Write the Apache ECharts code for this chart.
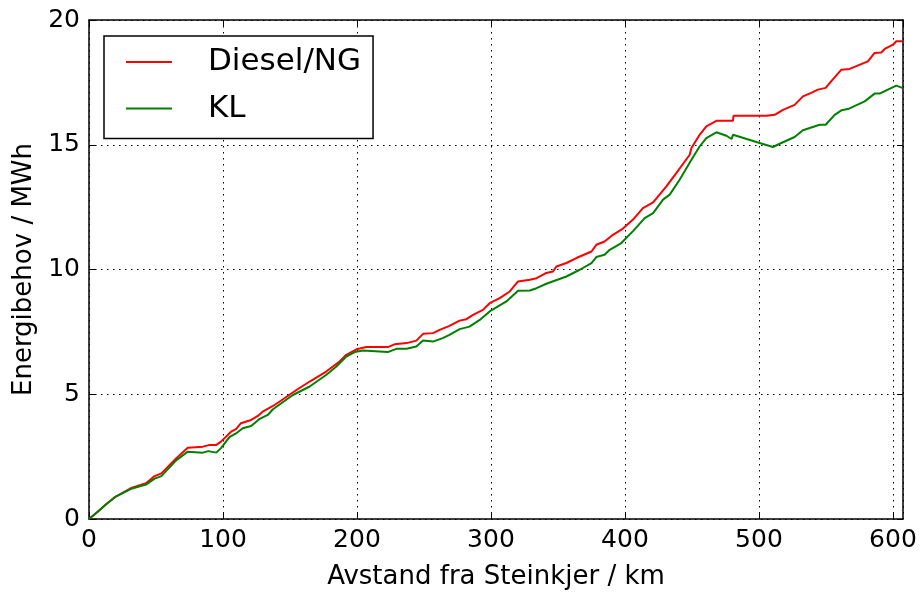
<!DOCTYPE html>
<html>
<head>
<meta charset="utf-8">
<script src="https://cdn.jsdelivr.net/npm/echarts@6/dist/echarts.min.js"></script>
<style>html,body{margin:0;padding:0;background:#fff}#c{width:924px;height:596px}</style>
</head>
<body>
<div id="c"></div>
<script>
// Diesel/NG series: distance (km) and energy need (MWh)
const dieselKm = [0,6.5,13,20,31,42.5,49,54,65,73.7,85,90,95,98.5,106,109.7,113.4,121,126,129.6,137.3,142.3,154.8,164.7,177,187,192,199.6,207,223,228,237,244.3,249.3,256.7,261.7,269,276.6,281.6,286.6,294,299,306.5,314,320.2,329,334,341.3,346.3,348.8,356.3,363.7,375,378.6,384.8,391,398.5,406,413.4,421,430.9,438.4,448.3,449.6,455.7,460.7,468.2,480.6,481,505.5,511.7,517.9,526.6,532.8,539,544,549.8,554,561.5,567.7,581.3,586.3,591.3,593.8,600,602.5,607];
const dieselVal = [0,0.29,0.6,0.9,1.23,1.43,1.72,1.83,2.43,2.86,2.9,2.97,2.97,3.1,3.5,3.6,3.84,3.97,4.13,4.3,4.53,4.71,5.17,5.51,5.91,6.31,6.58,6.8,6.89,6.89,7.0,7.05,7.15,7.42,7.45,7.58,7.74,7.95,8.01,8.18,8.38,8.65,8.85,9.12,9.52,9.59,9.65,9.86,9.92,10.12,10.26,10.46,10.72,10.99,11.12,11.39,11.64,12.0,12.46,12.69,13.33,13.87,14.6,14.87,15.4,15.74,15.96,15.96,16.16,16.16,16.2,16.4,16.6,16.94,17.08,17.21,17.28,17.55,18.01,18.04,18.34,18.68,18.7,18.84,19.01,19.15,19.15];
// KL series
const klKm = [0,6.5,13,20,31,42.5,49,54,65,73.7,85,89,95,98.5,104.8,109.7,114.7,121,127,133.4,137.3,152.2,164.7,177.2,184.6,192,198.3,204.5,223,229.4,237,244.3,249.3,256.7,264,269,276.6,284,291.6,299,311.5,320.2,329,334,341.3,356.3,366.2,375,378.6,384.8,388.6,397.3,406,414.7,421,428.4,433.4,440.8,449.6,455.7,460.7,468.2,475.7,479.6,480.6,500.5,510.4,517.9,526.6,532.8,545.3,549.8,556.5,561.5,566.4,578.9,586.3,590,595,602.5,607];
const klVal = [0,0.29,0.6,0.9,1.2,1.38,1.62,1.72,2.35,2.7,2.66,2.72,2.66,2.84,3.28,3.43,3.64,3.73,4.0,4.17,4.4,4.97,5.31,5.78,6.11,6.51,6.69,6.75,6.69,6.82,6.82,6.91,7.15,7.11,7.25,7.38,7.61,7.71,7.98,8.32,8.72,9.15,9.16,9.25,9.43,9.72,9.99,10.26,10.5,10.59,10.79,11.06,11.54,12.06,12.26,12.8,13.0,13.6,14.4,14.93,15.27,15.5,15.36,15.23,15.4,15.07,14.91,15.1,15.31,15.58,15.8,15.8,16.2,16.38,16.43,16.74,17.05,17.05,17.18,17.37,17.28];
const seriesNames = ['Diesel/NG', 'KL'];
const xTitle = 'Avstand fra Steinkjer / km';
const yTitle = 'Energibehov / MWh';

const FONT = 'DejaVu Sans';
const chart = echarts.init(document.getElementById('c'));
const zip = (a, b) => a.map((v, i) => [v, b[i]]);
const xFmt = v => (Math.abs(v % 100) < 1e-6 ? String(v) : '');
const yFmt = v => (Math.abs(v % 5) < 1e-6 ? String(v) : '');
const lineAx = {show: true, onZero: false, lineStyle: {color: '#000', width: 1.5}};
const tickAx = {show: true, inside: true, length: 6, lineStyle: {color: '#000', width: 1}};
chart.setOption({
  animation: false,
  grid: {left: 89, right: 21, top: 20, bottom: 77, containLabel: false},
  legend: {
    left: 104, top: 36, orient: 'vertical',
    data: seriesNames,
    backgroundColor: '#fff', borderColor: '#000', borderWidth: 1.5, borderRadius: 0,
    padding: [6, 12, 10, 22],
    itemWidth: 46, itemHeight: 20, itemGap: 6.6,
    icon: 'path://M0,9 L46,9 L46,11 L0,11 Z',
    textStyle: {fontFamily: FONT, fontSize: 31, color: '#000', lineHeight: 40, padding: [0, 0, 0, 31]}
  },
  xAxis: [{
    type: 'value', min: 0, max: 607.5, interval: 100, position: 'bottom',
    name: xTitle, nameLocation: 'middle', nameGap: 45,
    nameTextStyle: {fontFamily: FONT, fontSize: 26, color: '#000'},
    axisLine: lineAx, axisTick: tickAx,
    axisLabel: {fontFamily: FONT, fontSize: 25, color: '#000', margin: 9, formatter: xFmt, showMaxLabel: false},
    splitLine: {show: true, lineStyle: {color: '#000', type: [1.5, 4.5], width: 1}}
  }, {
    type: 'value', min: 0, max: 607.5, interval: 100, position: 'top',
    axisLine: lineAx, axisTick: tickAx, axisLabel: {show: false}, splitLine: {show: false}
  }],
  yAxis: [{
    type: 'value', min: 0, max: 20, interval: 5, position: 'left',
    name: yTitle, nameLocation: 'middle', nameGap: 52,
    nameTextStyle: {fontFamily: FONT, fontSize: 26, color: '#000'},
    axisLine: lineAx, axisTick: tickAx,
    axisLabel: {fontFamily: FONT, fontSize: 25, color: '#000', margin: 9, formatter: yFmt},
    splitLine: {show: true, lineStyle: {color: '#000', type: [1.5, 4.5], width: 1}}
  }, {
    type: 'value', min: 0, max: 20, interval: 5, position: 'right',
    axisLine: lineAx, axisTick: tickAx, axisLabel: {show: false}, splitLine: {show: false}
  }],
  series: [{
    name: seriesNames[0], type: 'line', data: zip(dieselKm, dieselVal),
    showSymbol: false, symbol: 'none', color: '#ff0000',
    lineStyle: {color: '#ff0000', width: 2}, z: 3
  }, {
    name: seriesNames[1], type: 'line', data: zip(klKm, klVal),
    showSymbol: false, symbol: 'none', color: '#008000',
    lineStyle: {color: '#008000', width: 2}, z: 3
  }]
});
</script>
</body>
</html>
